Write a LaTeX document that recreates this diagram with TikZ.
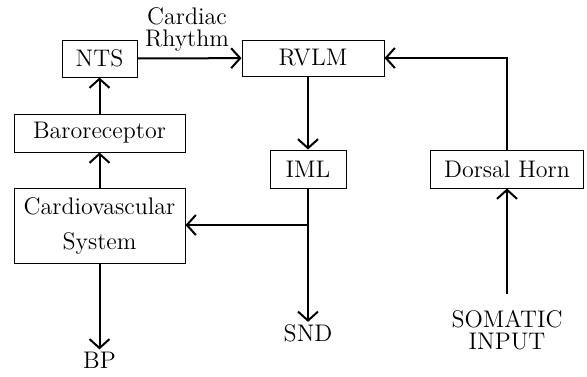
\documentclass[tikz,border=0pt]{standalone}
\usepackage{tikz}
\usetikzlibrary{arrows.meta,positioning,calc}
\tikzset{box/.style={draw,line width=0.5pt,align=center,font=\fontsize{12}{17.5}\selectfont,inner sep=0pt},flow/.style={-{Straight Barb[length=4.5pt,width=10pt,line width=1pt]},line width=1pt},lbl/.style={align=center,font=\fontsize{12}{11}\selectfont,inner sep=1pt}}
\begin{document}
\begin{tikzpicture}[x=0.5pt,y=-0.5pt]
\useasboundingbox (0,0) rectangle (587,376);
\node[box,minimum width=37.5pt,minimum height=18.5pt] (nts) at (99.5,58.5) {NTS};
\node[box,minimum width=71pt,minimum height=18pt] (rvlm) at (313,58) {RVLM};
\node[box,minimum width=85.5pt,minimum height=19pt] (baro) at (99.5,133) {Baroreceptor};
\node[box,minimum width=85.5pt,minimum height=37.5pt] (cardio) at (99.5,226) {Cardiovascular\\System};
\node[box,minimum width=38pt,minimum height=19pt] (iml) at (308,169) {IML};
\node[box,minimum width=76.5pt,minimum height=19pt] (dorsal) at (507,169) {Dorsal Horn};
\node[lbl] (rhythm) at (187,29) {Cardiac\\Rhythm};
\node[lbl] (bp) at (99.5,360) {BP};
\node[lbl] (snd) at (308,333) {SND};
\node[lbl] (somatic) at (507,330) {SOMATIC\\INPUT};
\coordinate (split) at (308,225);
\draw[flow](nts)--(rvlm);\draw[flow](baro)--(nts);\draw[flow](cardio)--(baro);
\draw[flow](rvlm.south -| iml.north)--(iml.north);
\draw[flow](iml)--(snd);\draw[flow](split)--(split -| cardio.east);
\draw[flow](cardio)--(bp);\draw[flow]([yshift=7pt]somatic.north)--(dorsal);
\draw[flow](dorsal)|-(rvlm);
\end{tikzpicture}
\end{document}
